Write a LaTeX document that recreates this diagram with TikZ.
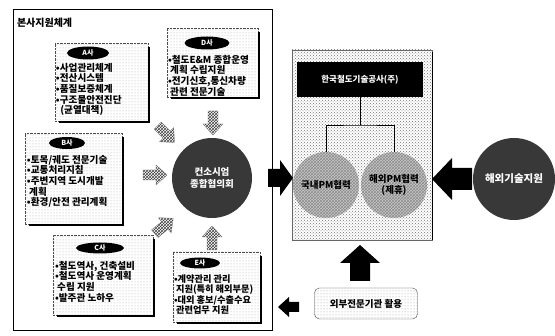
\documentclass[tikz,border=0pt]{standalone}
\usepackage{fontspec}
\setmainfont{Noto Sans CJK KR}
\usetikzlibrary{patterns,shapes.geometric,calc}
\begin{document}
\begin{tikzpicture}[x=1pt,y=-1pt,
  every node/.style={inner sep=0pt, outer sep=0pt},
  txt/.style={font=\bfseries\fontsize{9.6}{10.7}\selectfont, align=left, anchor=north west},
  subbox/.style={draw=black!70, densely dotted, pattern=dots, pattern color=black!35, anchor=north west},
  shadowline/.style={line width=1.4pt, draw=black},
  oval/.style={ellipse, fill=black, text=white, font=\bfseries\fontsize{7}{7}\selectfont},
  blk/.style={fill=black},
  hatch/.style={draw=black!55, line width=0.3pt, pattern=crosshatch, pattern color=black!75},
  darkball/.style={circle, fill=black!78, text=white, align=center},
  pmball/.style={circle, preaction={fill=black!22}, pattern=crosshatch, pattern color=black!45, align=center, font=\bfseries\fontsize{9.5}{11}\selectfont},
  hatcharrow/.pic={\path[hatch] (-12,-5) -- (1,-5) -- (1,-10) -- (12,0) -- (1,10) -- (1,5) -- (-12,5) -- cycle;}
]
\useasboundingbox (0,0) rectangle (555,336);

% left frame
\node[draw, line width=0.7pt, minimum width=259, minimum height=321, anchor=north west] (frame) at (13,9) {};
\node[anchor=west, font=\bfseries\fontsize{10}{10}\selectfont] (ttl) at (17,23) {본사지원체계};

% A
\node[subbox, minimum width=93, minimum height=78] (A) at (55,43) {};
\draw[shadowline] ($(A.north east)+(1,4)$) -- ($(A.south east)+(1,1)$) -- ($(A.south west)+(4,1)$);
\node[oval, minimum width=42, minimum height=13] (Ao) at (88,53) {A사};
\node[txt] (At) at (56,63) {•사업관리체계\\•전산시스템\\•품질보증체계\\•구조물안전진단\\\ \ (균열대책)};

% D
\node[subbox, minimum width=91, minimum height=69] (D) at (167,28) {};
\draw[shadowline] ($(D.north east)+(1,4)$) -- ($(D.south east)+(1,1)$) -- ($(D.south west)+(4,1)$);
\node[oval, minimum width=45, minimum height=13] (Do) at (207,43) {D사};
\node[txt] (Dt) at (168,55) {•철도E\&M 종합운영\\\ 계획 수립지원\\•전기신호,통신차량\\\ 관련 전문기술};

% B
\node[subbox, minimum width=97, minimum height=91] (B) at (25,133) {};
\draw[shadowline] ($(B.north east)+(1,4)$) -- ($(B.south east)+(1,1)$) -- ($(B.south west)+(4,1)$);
\node[oval, minimum width=36, minimum height=12] (Bo) at (67,143) {B사};
\node[txt] (Bt) at (27,155) {•토목/궤도 전문기술\\•교통처리지침\\•주변지역 도시개발\\\ 계획\\•환경/안전 관리계획};

% C
\node[subbox, minimum width=100, minimum height=80] (C) at (53,235) {};
\draw[shadowline] ($(C.north east)+(1,4)$) -- ($(C.south east)+(1,1)$) -- ($(C.south west)+(4,1)$);
\node[oval, minimum width=48, minimum height=11] (Co) at (100,248) {C사};
\node[txt] (Ct) at (55,261) {•철도역사, 건축설비\\•철도역사 운영계획\\\ 수립 지원\\•발주관 노하우};

% E
\node[subbox, minimum width=87, minimum height=70] (E) at (173,252) {};
\draw[shadowline] ($(E.north east)+(1,4)$) -- ($(E.south east)+(1,1)$) -- ($(E.south west)+(4,1)$);
\node[oval, minimum width=40, minimum height=11] (Eo) at (200,263) {E사};
\node[txt, font=\bfseries\fontsize{9.2}{10.2}\selectfont] (Et) at (174,275) {•계약관리 관리\\\ 지원(특히 해외부문)\\•대외 홍보/수출수요\\\ 관련업무 지원};

% hub
\node[darkball, minimum size=80, font=\bfseries\fontsize{9.5}{11.5}\selectfont] (hub) at (212,178) {컨소시엄\\종합협의회};

% hatched arrows
\pic[rotate=-90] (h1) at (213,123) {hatcharrow};
\pic[rotate=-45] (h2) at (166,134) {hatcharrow};
\pic (h3) at (155,175) {hatcharrow};
\pic[rotate=40] (h4) at (164,226) {hatcharrow};
\pic[rotate=90] (h5) at (212,238) {hatcharrow};

% right main box
\node[draw=black!60, pattern=crosshatch dots, pattern color=black!55, minimum width=140, minimum height=190, anchor=north west] (main) at (292,50) {};
\draw[line width=1.2pt] ($(main.north east)+(0.6,2)$) -- ($(main.south east)+(0.6,0)$);
\node[fill=black, text=white, minimum width=126, minimum height=35, font=\bfseries\fontsize{8.5}{10}\selectfont] (corp) at (360,79.5) {한국철도기술공사(주)};
\node[pmball, minimum size=66] (dom) at (326,185) {국내PM협력};
\node[pmball, minimum size=66] (ovs) at (394,185) {해외PM협력\\(제휴)};
\coordinate (j) at (360,125);
\draw[line width=0.8pt] (corp.south) -- (j);
\draw[line width=0.8pt] (dom.north) |- (j) -| (ovs.north);

% right ball
\node[darkball, minimum size=82, font=\bfseries\fontsize{10.5}{12}\selectfont] (tech) at (514,179) {해외기술지원};

% bottom box
\node[draw=black!70, rounded corners=5pt, pattern=dots, pattern color=black!40, minimum width=103, minimum height=31, font=\bfseries\fontsize{9.5}{10}\selectfont] (ext) at (366,303.5) {외부전문기관 활용};

% black block arrows
\path[blk] (268,169) -- (280,169) -- (280,160) -- (293,178) -- (280,196) -- (280,187) -- (268,187) -- cycle;
\path[blk] (432,179) -- (452,158) -- (452,168) -- (472,168) -- (472,190) -- (452,190) -- (452,200) -- cycle;
\path[blk] (360,245) -- (380,263) -- (370,263) -- (370,281) -- (350,281) -- (350,263) -- (340,263) -- cycle;
\path[blk] (278,307) -- (289,297) -- (289,302) -- (299,302) -- (299,312) -- (289,312) -- (289,317) -- cycle;
\end{tikzpicture}
\end{document}
